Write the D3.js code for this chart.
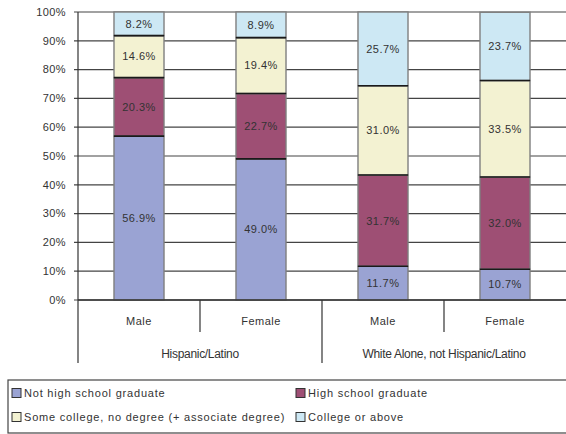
<!DOCTYPE html>
<html><head><meta charset="utf-8">
<script src="https://cdn.jsdelivr.net/npm/d3@7"></script>
<style>
html,body{margin:0;padding:0;background:#fff;}
svg{display:block;font-family:"Liberation Sans",Arial,sans-serif;}
</style></head>
<body><svg id="c" width="566" height="434"></svg>
<script>
const categories = ["Male", "Female", "Male", "Female"];
const groups = ["Hispanic/Latino", "White Alone, not Hispanic/Latino"];
const seriesNames = ["Not high school graduate", "High school graduate", "Some college, no degree (+ associate degree)", "College or above"];
const notHS = [56.9, 49.0, 11.7, 10.7];
const hsGrad = [20.3, 22.7, 31.7, 32.0];
const someCollege = [14.6, 19.4, 31.0, 33.5];
const collegeAbove = [8.2, 8.9, 25.7, 23.7];
const yTicks = [0, 10, 20, 30, 40, 50, 60, 70, 80, 90, 100];
const colors = ["#9AA3D3", "#9E4F74", "#F3F2D2", "#CDE8F4"];

const series = [notHS, hsGrad, someCollege, collegeAbove];
const svg = d3.select("#c");
const pLeft = 78, pRight = 566, pTop = 12, pBottom = 300;
const keys = categories.map((c, i) => i);
const x = d3.scaleBand().domain(keys).range([pLeft, pRight]).paddingInner(0.59).paddingOuter(0.295);
const y = d3.scaleLinear().domain([0, 100]).range([pBottom, pTop]);

// gridlines
svg.append("g").selectAll("line").data(yTicks).join("line")
  .attr("x1", pLeft - 4).attr("x2", pRight)
  .attr("y1", d => y(d)).attr("y2", d => y(d))
  .attr("stroke", "#444").attr("stroke-width", 1.2);

// y labels
svg.append("g").selectAll("text").data(yTicks).join("text")
  .attr("x", 66).attr("y", d => y(d)).attr("dy", "0.35em")
  .attr("text-anchor", "end").attr("font-size", 11).attr("letter-spacing", 0.4)
  .attr("fill", "#333").text(d => d + "%");

// stacked data
const table = keys.map(i => ({i, v: series.map(s => s[i])}));
const stacks = [];
table.forEach(r => {
  let acc = 0;
  r.v.forEach((v, k) => { stacks.push({i: r.i, k, y0: acc, y1: acc + v, v}); acc += v; });
});
const bars = svg.append("g");
bars.selectAll("rect").data(stacks).join("rect")
  .attr("x", d => x(d.i)).attr("width", x.bandwidth())
  .attr("y", d => y(Math.min(d.y1, 100))).attr("height", d => y(d.y0) - y(Math.min(d.y1, 100)))
  .attr("fill", d => colors[d.k]).attr("stroke", "#7f7f7f").attr("stroke-width", 1.4);
// dark boundaries between segments
bars.selectAll("line").data(stacks.filter(d => d.k > 0)).join("line")
  .attr("x1", d => x(d.i)).attr("x2", d => x(d.i) + x.bandwidth())
  .attr("y1", d => y(d.y0)).attr("y2", d => y(d.y0))
  .attr("stroke", "#1a1a1a").attr("stroke-width", 1.6);
bars.selectAll("text").data(stacks).join("text")
  .attr("x", d => x(d.i) + x.bandwidth() / 2)
  .attr("y", d => (y(d.y0) + y(Math.min(d.y1, 100))) / 2).attr("dy", "0.35em")
  .attr("text-anchor", "middle").attr("font-size", 11).attr("letter-spacing", 0.5)
  .attr("fill", "#333").text(d => d.v.toFixed(1) + "%");

// axes lines
svg.append("line").attr("x1", pLeft).attr("x2", pLeft).attr("y1", pTop).attr("y2", 363)
  .attr("stroke", "#333").attr("stroke-width", 1.2);
svg.append("line").attr("x1", pLeft).attr("x2", pRight).attr("y1", pBottom).attr("y2", pBottom)
  .attr("stroke", "#333").attr("stroke-width", 1.4);
const step = x.step();
// separators
keys.forEach(i => {
  const xs = pLeft + step * i;
  if (i === 0) return;
  const long = i % 2 === 0;
  svg.append("line").attr("x1", xs).attr("x2", xs).attr("y1", pBottom).attr("y2", long ? 363 : 332)
    .attr("stroke", "#333").attr("stroke-width", 1.2);
});
// category labels
svg.append("g").selectAll("text").data(keys).join("text")
  .attr("x", i => x(i) + x.bandwidth() / 2).attr("y", 321).attr("dy", "0.35em")
  .attr("text-anchor", "middle").attr("font-size", 11).attr("letter-spacing", 0.5)
  .attr("fill", "#333").text(i => categories[i]);
// group labels
svg.append("g").selectAll("text").data(groups).join("text")
  .attr("x", (g, j) => pLeft + step * (2 * j + 1)).attr("y", 354).attr("dy", "0.35em")
  .attr("text-anchor", "middle").attr("font-size", 12).attr("letter-spacing", -0.3)
  .attr("fill", "#333").text(g => g);

// legend
svg.append("rect").attr("x", 8).attr("y", 380).attr("width", 570).attr("height", 53)
  .attr("fill", "#fff").attr("stroke", "#444").attr("stroke-width", 1.2);
const lg = svg.append("g").selectAll("g").data(seriesNames).join("g")
  .attr("transform", (d, k) => `translate(${k % 2 === 0 ? 12 : 296},${k < 2 ? 393 : 417})`);
lg.append("rect").attr("x", 0).attr("y", -4.5).attr("width", 9).attr("height", 9)
  .attr("fill", (d, k) => colors[k]).attr("stroke", "#333").attr("stroke-width", 1);
lg.append("text").attr("x", 12).attr("dy", "0.35em").attr("font-size", 11).attr("letter-spacing", 0.8)
  .attr("fill", "#333").text(d => d);
</script></body></html>
